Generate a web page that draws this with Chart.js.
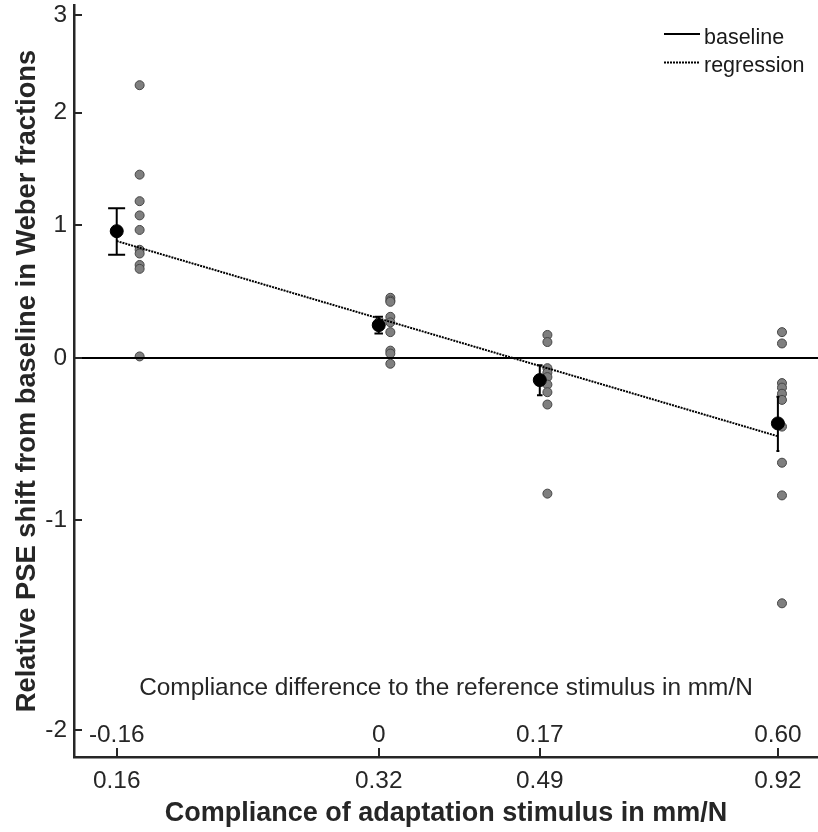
<!DOCTYPE html>
<html><head><meta charset="utf-8">
<script src="https://cdn.jsdelivr.net/npm/chart.js@4/dist/chart.umd.min.js"></script>
<style>html,body{margin:0;padding:0;background:#fff;overflow:hidden}</style>
</head><body>
<canvas id="c" width="818" height="832" style="width:818px;height:832px;display:block"></canvas>
<script>
// ---------- data ----------
const compliance = [0.16, 0.32, 0.49, 0.92];
const complianceTickLabels = ['0.16', '0.32', '0.49', '0.92'];
const complianceDiffLabels = ['-0.16', '0', '0.17', '0.60'];
const meanShift = [0.95, 0.23, -0.15, -0.43];
const semShift = [0.19, 0.06, 0.10, 0.17];
const subjectsG1 = [2.27, 1.43, 1.20, 1.08, 0.96, 0.80, 0.77, 0.68, 0.65, 0.01];
const subjectsG2 = [0.43, 0.41, 0.40, 0.29, 0.25, 0.18, 0.05, 0.03, -0.04];
const subjectsG3 = [0.16, 0.11, -0.07, -0.10, -0.13, -0.18, -0.23, -0.31, -0.85];
const subjectsG4 = [0.18, 0.10, -0.17, -0.20, -0.24, -0.28, -0.45, -0.67, -0.86, -1.43];
const regressionX = [0.16, 0.92];
const regressionY = [0.87, -0.51];
const yTickValues = [-2, -1, 0, 1, 2, 3];
const yTickLabels = ['-2', '-1', '0', '1', '2', '3'];
const xLimits = [0.1429, 1.023];
const yLimits = [-2.109, 3.116];
const legendLabels = ['baseline', 'regression'];
const xTitle = 'Compliance of adaptation stimulus in mm/N';
const yTitle = 'Relative PSE shift from baseline in Weber fractions';
const innerTitle = 'Compliance difference to the reference stimulus in mm/N';

// display transform constants (axis is logarithmic in shift + offset)
const logOffset = 5;
const subjectJitter = 0.01;
const capHalf = 0.0036;

const FONT = '"Liberation Sans", Arial, Helvetica, sans-serif';
const AX = '#262626';
const TXT = 24.4;

const subjectGroups = [subjectsG1, subjectsG2, subjectsG3, subjectsG4];
const subjectPts = [];
subjectGroups.forEach((g, i) => g.forEach(v => subjectPts.push({x: compliance[i] + subjectJitter, y: v + logOffset})));
const meanPts = compliance.map((c, i) => ({x: c, y: meanShift[i] + logOffset}));
const regPts = regressionX.map((x, i) => ({x: x, y: regressionY[i] + logOffset}));
const basePts = [{x: xLimits[0], y: logOffset}, {x: xLimits[1], y: logOffset}];

const extras = {
  id: 'extras',
  afterDatasetsDraw(chart) {
    const ctx = chart.ctx, xs = chart.scales.x, ys = chart.scales.y;
    ctx.save();
    ctx.strokeStyle = '#000';
    ctx.lineWidth = 2;
    compliance.forEach((c, i) => {
      const px = xs.getPixelForValue(c);
      const yt = ys.getPixelForValue(meanShift[i] + semShift[i] + logOffset);
      const yb = ys.getPixelForValue(meanShift[i] - semShift[i] + logOffset);
      const xl = xs.getPixelForValue(c - capHalf), xr = xs.getPixelForValue(c + capHalf);
      ctx.beginPath();
      ctx.moveTo(px, yt); ctx.lineTo(px, yb);
      ctx.moveTo(xl, yt); ctx.lineTo(xr, yt);
      ctx.moveTo(xl, yb); ctx.lineTo(xr, yb);
      ctx.stroke();
    });
    ctx.restore();
  },
  afterDraw(chart) {
    const ctx = chart.ctx, xs = chart.scales.x, ys = chart.scales.y, ca = chart.chartArea;
    ctx.save();
    // inward tick marks
    ctx.strokeStyle = AX; ctx.lineWidth = 2;
    ctx.beginPath();
    compliance.forEach(c => {
      const px = Math.round(xs.getPixelForValue(c));
      ctx.moveTo(px, ca.bottom); ctx.lineTo(px, ca.bottom - 9);
    });
    yTickValues.forEach(v => {
      const py = Math.round(ys.getPixelForValue(v + logOffset));
      ctx.moveTo(ca.left, py); ctx.lineTo(ca.left + 8, py);
    });
    ctx.stroke();
    // difference labels and inner title
    ctx.fillStyle = AX;
    ctx.font = TXT + 'px ' + FONT;
    ctx.textAlign = 'center';
    ctx.textBaseline = 'alphabetic';
    compliance.forEach((c, i) => {
      ctx.fillText(complianceDiffLabels[i], xs.getPixelForValue(c), 742);
    });
    ctx.fillText(innerTitle, (ca.left + ca.right) / 2, 695);
    // legend
    ctx.font = '21.5px ' + FONT;
    ctx.textAlign = 'left';
    ctx.fillStyle = '#1a1a1a';
    ctx.strokeStyle = '#000';
    ctx.lineWidth = 2;
    ctx.beginPath(); ctx.moveTo(664, 34); ctx.lineTo(700, 34); ctx.stroke();
    ctx.setLineDash([2, 1]); ctx.lineWidth = 2;
    ctx.beginPath(); ctx.moveTo(664, 62.5); ctx.lineTo(700, 62.5); ctx.stroke();
    ctx.setLineDash([]);
    ctx.fillText(legendLabels[0], 704, 43.5);
    ctx.fillText(legendLabels[1], 704, 72);
    ctx.restore();
  }
};

new Chart(document.getElementById('c'), {
  type: 'scatter',
  data: {
    datasets: [
      {label: legendLabels[0], data: basePts, showLine: true, borderColor: '#000', borderWidth: 2, pointRadius: 0, order: 1},
      {label: legendLabels[1], data: regPts, showLine: true, borderColor: '#000', borderWidth: 2, borderDash: [2, 1], pointRadius: 0, order: 2},
      {label: 'mean', data: meanPts, showLine: false, pointRadius: 6.5, backgroundColor: '#000', borderColor: '#000', borderWidth: 1, order: 3},
      {label: 'subjects', data: subjectPts, showLine: false, pointRadius: 4.5, backgroundColor: '#7f7f7f', borderColor: '#454545', borderWidth: 1, order: 4}
    ]
  },
  options: {
    responsive: false,
    animation: false,
    devicePixelRatio: 1,
    layout: {padding: {top: 5, right: 0, bottom: 0, left: 0}, autoPadding: false},
    plugins: {legend: {display: false}, tooltip: {enabled: false}},
    scales: {
      x: {
        type: 'logarithmic', position: 'bottom', min: xLimits[0], max: xLimits[1],
        grid: {display: false, drawTicks: false},
        border: {display: true, color: AX, width: 2.5},
        afterBuildTicks: s => { s.ticks = compliance.map(v => ({value: v})); },
        afterFit: s => { s.height = 75; s.paddingLeft = 0; s.paddingRight = 0; s.paddingTop = 0; s.paddingBottom = 0; },
        ticks: {autoSkip: false, maxRotation: 0, minRotation: 0, padding: 9.5, color: AX,
          font: {family: FONT, size: TXT, lineHeight: 1.2},
          callback: (v, i) => complianceTickLabels[i]},
        title: {display: true, text: xTitle, color: AX,
          font: {family: FONT, size: 27, weight: 'bold', lineHeight: 1}, padding: {top: 0, bottom: 5}}
      },
      y: {
        type: 'logarithmic', position: 'left', min: yLimits[0] + logOffset, max: yLimits[1] + logOffset,
        grid: {display: false, drawTicks: false},
        border: {display: true, color: AX, width: 2.5},
        afterBuildTicks: s => { s.ticks = yTickValues.map(v => ({value: v + logOffset})); },
        afterFit: s => { s.width = 74; s.paddingLeft = 0; s.paddingRight = 0; s.paddingTop = 0; s.paddingBottom = 0; },
        ticks: {autoSkip: false, padding: 7, color: AX,
          font: {family: FONT, size: TXT, lineHeight: 1.2},
          callback: (v, i) => yTickLabels[i]},
        title: {display: true, text: yTitle, color: AX,
          font: {family: FONT, size: 27.3, weight: 'bold', lineHeight: 1}, padding: {top: 14, bottom: 0}}
      }
    }
  },
  plugins: [extras]
});
</script>
</body></html>
